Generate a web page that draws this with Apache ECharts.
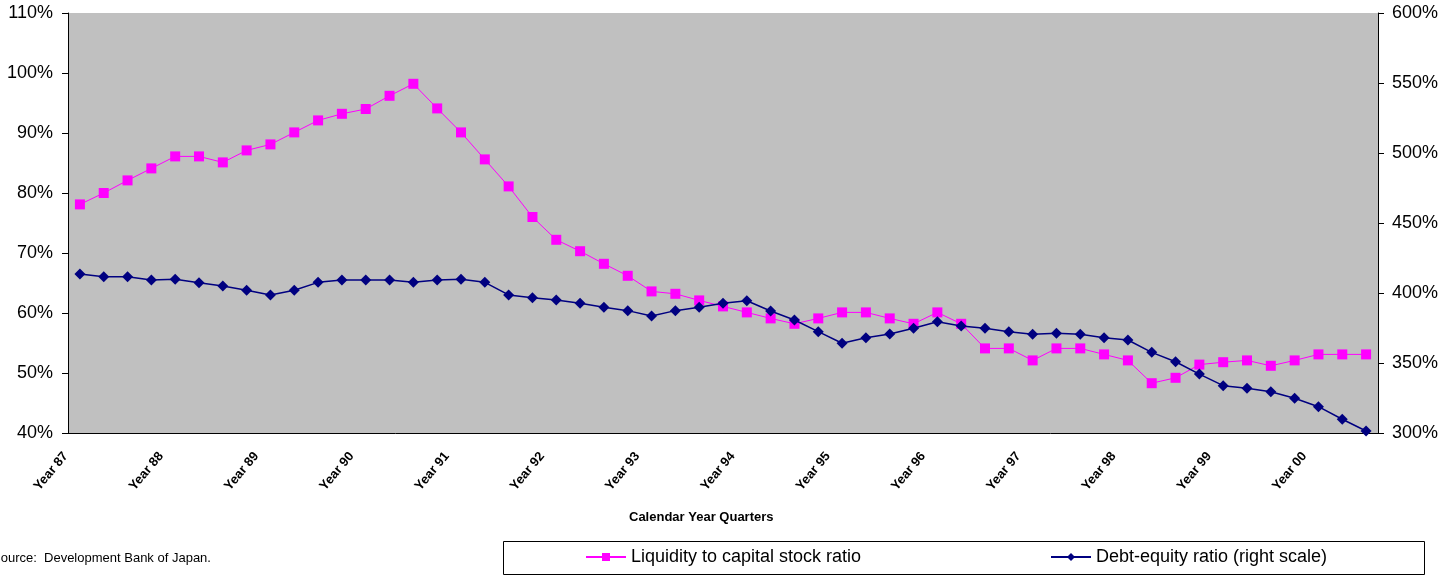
<!DOCTYPE html>
<html>
<head>
<meta charset="utf-8">
<script src="https://cdn.jsdelivr.net/npm/echarts@6/dist/echarts.min.js"></script>
<style>
html,body{margin:0;padding:0;background:#fff;}
#chart{width:1442px;height:576px;}
</style>
</head>
<body>
<div id="chart"></div>
<script>
const categories = [
 '1987Q1','1987Q2','1987Q3','1987Q4','1988Q1','1988Q2','1988Q3','1988Q4',
 '1989Q1','1989Q2','1989Q3','1989Q4','1990Q1','1990Q2','1990Q3','1990Q4',
 '1991Q1','1991Q2','1991Q3','1991Q4','1992Q1','1992Q2','1992Q3','1992Q4',
 '1993Q1','1993Q2','1993Q3','1993Q4','1994Q1','1994Q2','1994Q3','1994Q4',
 '1995Q1','1995Q2','1995Q3','1995Q4','1996Q1','1996Q2','1996Q3','1996Q4',
 '1997Q1','1997Q2','1997Q3','1997Q4','1998Q1','1998Q2','1998Q3','1998Q4',
 '1999Q1','1999Q2','1999Q3','1999Q4','2000Q1','2000Q2','2000Q3'
];
const tickLabels = ['Year 87','Year 88','Year 89','Year 90','Year 91','Year 92','Year 93',
  'Year 94','Year 95','Year 96','Year 97','Year 98','Year 99','Year 00'];
const liquidity = [
 78.1, 80.0, 82.1, 84.1, 86.1, 86.1, 85.1, 87.1, 88.1, 90.1, 92.1, 93.2, 94.0, 96.2, 98.2,
 94.1, 90.1, 85.6, 81.1, 76.0, 72.2, 70.3, 68.2, 66.2, 63.6, 63.2, 62.1, 61.1, 60.1, 59.1,
 58.2, 59.1, 60.1, 60.1, 59.1, 58.2, 60.1, 58.2, 54.1, 54.1, 52.1, 54.1, 54.1, 53.1, 52.1,
 48.3, 49.2, 51.4, 51.8, 52.1, 51.2, 52.1, 53.1, 53.1, 53.1
];
const debtEquity = [
 413.6, 411.6, 411.6, 409.3, 409.8, 407.4, 405.0, 402.0, 398.6, 402.0, 407.6, 409.3, 409.3, 409.3, 407.6,
 409.3, 409.8, 407.6, 398.6, 396.6, 395.0, 392.6, 389.8, 387.4, 383.6, 387.4, 389.8, 392.6, 394.5, 387.1,
 380.7, 372.4, 364.1, 368.1, 370.7, 374.8, 379.5, 376.4, 374.8, 372.4, 370.5, 371.2, 370.5, 368.1, 366.4,
 357.6, 350.9, 342.1, 333.8, 331.9, 329.5, 324.8, 318.8, 309.8, 301.4
];

const chart = echarts.init(document.getElementById('chart'));
const FONT = 'Liberation Sans, Arial, sans-serif';
chart.setOption({
  animation: false,
  backgroundColor: '#ffffff',
  textStyle: { fontFamily: FONT },
  grid: { left: 68, right: 64, top: 13, bottom: 143, show: true, backgroundColor: '#C0C0C0', borderWidth: 0 },
  xAxis: {
    type: 'category',
    data: categories,
    boundaryGap: true,
    axisLine: { lineStyle: { color: '#000', width: 1 } },
    axisTick: { interval: 0, length: 4, lineStyle: { color: '#000' } },
    axisLabel: {
      interval: 3,
      rotate: 50,
      margin: 4,
      padding: [0, 22, 0, 0],
      fontFamily: FONT,
      fontSize: 13,
      fontWeight: 'bold',
      color: '#000',
      formatter: function (v, i) { return tickLabels[Math.floor(i / 4)] || ''; }
    },
    splitLine: { show: false }
  },
  yAxis: [
    {
      type: 'value', min: 40, max: 110, interval: 10,
      axisLine: { show: true, lineStyle: { color: '#000' } },
      axisTick: { show: true, length: 6, lineStyle: { color: '#000' } },
      axisLabel: { formatter: '{value}%', fontSize: 18, color: '#000', margin: 15, fontFamily: FONT },
      splitLine: { show: false }
    },
    {
      type: 'value', min: 300, max: 600, interval: 50, position: 'right',
      axisLine: { show: true, lineStyle: { color: '#000' } },
      axisTick: { show: true, length: 6, lineStyle: { color: '#000' } },
      axisLabel: { formatter: '{value}%', fontSize: 18, color: '#000', margin: 14, fontFamily: FONT },
      splitLine: { show: false }
    }
  ],
  legend: [
    {
      data: ['Liquidity to capital stock ratio'],
      left: 585, top: 548, itemWidth: 40, itemHeight: 10, itemGap: 6, padding: 0,
      textStyle: { fontSize: 18, color: '#000', fontFamily: FONT }
    },
    {
      data: ['Debt-equity ratio (right scale)'],
      left: 1050, top: 548, itemWidth: 40, itemHeight: 10, itemGap: 6, padding: 0,
      textStyle: { fontSize: 18, color: '#000', fontFamily: FONT }
    }
  ],
  graphic: [
    { type: 'rect', shape: { x: 503.5, y: 541.5, width: 921, height: 33 }, style: { fill: 'none', stroke: '#000', lineWidth: 1 }, z: -1 },
    { type: 'text', left: 629, top: 511, style: { text: 'Calendar Year Quarters', font: 'bold 13px ' + FONT, fill: '#000' } },
    { type: 'text', left: -8, top: 552, style: { text: 'Source:  Development Bank of Japan.', font: '13px ' + FONT, fill: '#000' } }
  ],
  series: [
    {
      name: 'Liquidity to capital stock ratio',
      type: 'line',
      yAxisIndex: 0,
      data: liquidity,
      symbol: 'rect',
      symbolSize: 10,
      itemStyle: { color: '#FF00FF' },
      lineStyle: { color: '#FF00FF', width: 1 },
      z: 3
    },
    {
      name: 'Debt-equity ratio (right scale)',
      type: 'line',
      yAxisIndex: 1,
      data: debtEquity,
      symbol: 'diamond',
      symbolSize: 11,
      itemStyle: { color: '#000080' },
      lineStyle: { color: '#000080', width: 1.5 },
      z: 4
    }
  ]
});
</script>
</body>
</html>
